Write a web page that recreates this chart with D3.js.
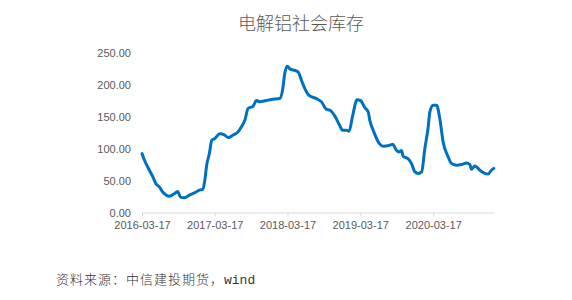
<!DOCTYPE html>
<html>
<head>
<meta charset="utf-8">
<script src="https://cdn.jsdelivr.net/npm/d3@7"></script>
<style>
  body { margin: 0; background: #fff; }
  svg { display: block; }
</style>
</head>
<body>
<div id="chart"></div>
<script>
// 標題與資料來源
const title = "电解铝社会库存";
const sourceCn = "资料来源：中信建投期货，";
const sourceEn = "wind";

// 日期與庫存值（萬噸）
const dates = [
  "2016-03-17", "2016-03-29", "2016-04-23", "2016-05-10", "2016-05-26", "2016-06-12",
  "2016-06-29", "2016-08-02", "2016-08-27", "2016-09-12", "2016-09-26", "2016-10-16",
  "2016-11-10", "2016-12-05", "2016-12-30", "2017-01-16", "2017-01-26", "2017-02-05",
  "2017-02-18", "2017-03-02", "2017-03-17", "2017-04-11", "2017-05-06", "2017-05-23",
  "2017-06-17", "2017-07-12", "2017-07-29", "2017-08-15", "2017-08-31", "2017-09-25",
  "2017-10-12", "2017-10-29", "2017-12-01", "2017-12-27", "2018-02-06", "2018-02-20",
  "2018-03-03", "2018-03-15", "2018-03-31", "2018-04-23", "2018-05-09", "2018-05-26",
  "2018-06-12", "2018-07-03", "2018-08-09", "2018-09-03", "2018-09-29", "2018-10-15",
  "2018-11-09", "2018-12-04", "2018-12-18", "2019-01-07", "2019-01-20", "2019-02-06",
  "2019-03-01", "2019-03-18", "2019-04-09", "2019-04-26", "2019-05-04", "2019-05-24",
  "2019-06-20", "2019-07-10", "2019-08-12", "2019-08-26", "2019-09-15", "2019-09-28",
  "2019-10-10", "2019-10-18", "2019-11-12", "2019-11-29", "2019-12-16", "2020-01-02",
  "2020-01-19", "2020-02-04", "2020-02-21", "2020-02-29", "2020-03-17", "2020-04-03",
  "2020-04-19", "2020-05-06", "2020-05-31", "2020-06-17", "2020-07-12", "2020-08-06",
  "2020-08-31", "2020-09-17", "2020-09-25", "2020-10-12", "2020-11-06", "2020-12-01",
  "2020-12-17", "2021-01-03", "2021-01-15"
];
const values = [
  92, 82, 66, 56, 45, 40,
  32, 25.5, 29.7, 33, 24, 23,
  27, 30.6, 35, 36, 50, 75,
  92, 113, 115.6, 123, 121, 117,
  121, 126, 134, 144, 162.5, 166,
  175, 173, 175, 176.6, 178, 191,
  217, 228.6, 224, 222, 219.7, 206.7,
  193.7, 183, 178, 173, 161, 160,
  151, 136, 128.6, 128.6, 127, 150,
  176, 175, 164, 157, 144, 126,
  108, 103.6, 105, 106.7, 97, 94.7,
  97, 88, 84, 76.5, 63.4, 61,
  63.4, 100, 134, 157, 167.6, 167.6,
  147, 110, 87, 76.5, 74, 75,
  77.5, 75, 67.6, 72.8, 66, 61,
  60, 66, 69
];

// 座標軸刻度
const xTicks = ["2016-03-17", "2017-03-17", "2018-03-17", "2019-03-17", "2020-03-17"];
const yTicks = [0, 50, 100, 150, 200, 250];

const width = 572;
const height = 300;
const parse = d3.timeParse("%Y-%m-%d");
const fmtDate = d3.timeFormat("%Y-%m-%d");

const data = dates.map((d, i) => ({ date: parse(d), value: values[i] }));

const svg = d3
  .select("#chart")
  .append("svg")
  .attr("width", width)
  .attr("height", height);

const x = d3
  .scaleTime()
  .domain([parse("2016-03-17"), parse("2021-01-16")])
  .range([142, 494]);

const y = d3.scaleLinear().domain([0, 250]).range([212.5, 52.5]);

// 標題
svg
  .append("text")
  .attr("x", 301)
  .attr("y", 30)
  .attr("text-anchor", "middle")
  .style("font-family", "'Noto Sans CJK SC', sans-serif")
  .style("font-size", "18px")
  .style("font-weight", 300)
  .style("fill", "#595959")
  .text(title);

// Y 軸
const yAxis = svg
  .append("g")
  .attr("transform", "translate(142,0)")
  .call(
    d3
      .axisLeft(y)
      .tickValues(yTicks)
      .tickFormat(d3.format(".2f"))
      .tickSize(0)
      .tickPadding(11)
  );
yAxis.select(".domain").remove();
yAxis
  .selectAll("text")
  .style("font-family", "'Liberation Sans', Arial, sans-serif")
  .style("font-size", "11px")
  .style("fill", "#595959");

// X 軸
const xAxis = svg
  .append("g")
  .attr("transform", `translate(0,${y(0)})`)
  .call(
    d3
      .axisBottom(x)
      .tickValues(xTicks.map(parse))
      .tickFormat(fmtDate)
      .tickSizeInner(4)
      .tickSizeOuter(0)
      .tickPadding(5)
  );
xAxis.select(".domain").attr("stroke", "#d9d9d9");
xAxis.selectAll(".tick line").attr("stroke", "#d9d9d9");
xAxis
  .selectAll("text")
  .style("font-family", "'Liberation Sans', Arial, sans-serif")
  .style("font-size", "11px")
  .style("fill", "#595959");

// 折線
const line = d3
  .line()
  .x((d) => x(d.date))
  .y((d) => y(d.value))
  .curve(d3.curveMonotoneX);

svg
  .append("path")
  .datum(data)
  .attr("d", line)
  .attr("fill", "none")
  .attr("stroke", "#0070C0")
  .attr("stroke-width", 3)
  .attr("stroke-linejoin", "round")
  .attr("stroke-linecap", "round");

// 資料來源
const src = svg
  .append("text")
  .attr("x", 56)
  .attr("y", 284)
  .style("font-size", "13px")
  .style("fill", "#333");
src
  .append("tspan")
  .style("font-family", "'Noto Sans CJK SC', sans-serif")
  .style("font-weight", 300)
  .style("letter-spacing", "1px")
  .text(sourceCn);
src
  .append("tspan")
  .style("font-family", "'Liberation Mono', monospace")
  .text(sourceEn);
</script>
</body>
</html>
